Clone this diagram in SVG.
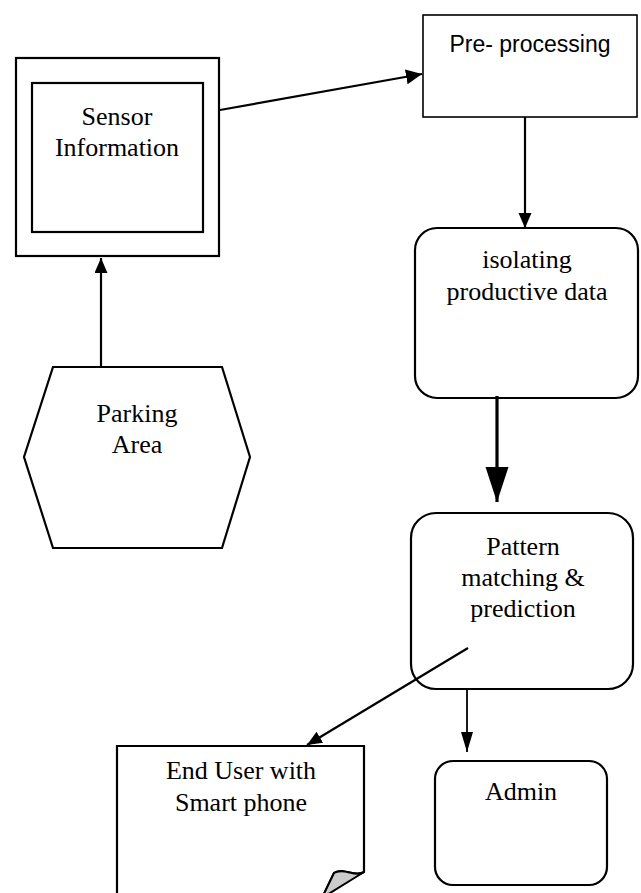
<svg xmlns="http://www.w3.org/2000/svg" width="641" height="893" viewBox="0 0 641 893">
<style>
.box{fill:#fff;stroke:#000;stroke-width:2.2}
.t{font-family:"Liberation Serif","Times New Roman",serif;font-size:26px;fill:#000;text-anchor:middle}
.s{font-family:"Liberation Sans",Arial,sans-serif;font-size:23px;fill:#000;text-anchor:middle}
.ln{stroke:#000;stroke-width:2.2;fill:none}
</style>
<defs>
<marker id="ah" markerUnits="userSpaceOnUse" markerWidth="18" markerHeight="16" refX="16" refY="7.5" orient="auto">
<path d="M0,0 L16,7.5 L0,15 Z" fill="#000"/>
</marker>
<marker id="ahs" markerUnits="userSpaceOnUse" markerWidth="20" markerHeight="14" refX="15" refY="6.5" orient="auto">
<path d="M0,0 L15,6.5 L0,13 Z" fill="#000"/>
</marker>
<marker id="ahl" markerUnits="userSpaceOnUse" markerWidth="22" markerHeight="14" refX="20" refY="6" orient="auto">
<path d="M0,0 L20,6 L0,12 Z" fill="#000"/>
</marker>
<marker id="ahb" markerUnits="userSpaceOnUse" markerWidth="36" markerHeight="24" refX="35" refY="11.5" orient="auto">
<path d="M0,0 L35,11.5 L0,23 Z" fill="#000"/>
</marker>
</defs>
<g id="sensor">
<rect class="box" x="16" y="58" width="203" height="198"/>
<rect class="box" x="32" y="83" width="171" height="149"/>
<text class="t" x="117" y="125">Sensor</text>
<text class="t" x="117" y="156">Information</text>
</g>
<g id="preprocessing">
<rect class="box" x="423" y="15" width="214" height="102" style="stroke-width:1.6"/>
<text class="s" x="530" y="52">Pre- processing</text>
</g>
<g id="isolating">
<rect class="box" x="415" y="228" width="223" height="170" rx="22"/>
<text class="t" x="527" y="268">isolating</text>
<text class="t" x="527" y="300">productive data</text>
</g>
<g id="parking">
<polygon class="box" points="53,367 222,367 250,457 222,548 53,548 24,457"/>
<text class="t" x="137" y="422">Parking</text>
<text class="t" x="137" y="453">Area</text>
</g>
<g id="pattern">
<rect class="box" x="411" y="513" width="222" height="176" rx="25"/>
<text class="t" x="523" y="555">Pattern</text>
<text class="t" x="523" y="586">matching &amp;</text>
<text class="t" x="523" y="617">prediction</text>
</g>
<g id="enduser">
<path class="box" d="M117,900 L117,746 L364,746 L364,872 C355,878 344,867 334,873 L322,898"/>
<path d="M364,872 C355,878 344,867 334,873 L322,898 Z" fill="#cccccc" stroke="#000" stroke-width="2"/>
<text class="t" x="241" y="779">End User with</text>
<text class="t" x="241" y="811">Smart phone</text>
</g>
<g id="admin">
<rect class="box" x="435" y="761" width="172" height="124" rx="18"/>
<text class="t" x="521" y="800">Admin</text>
</g>
<g id="connectors">
<line class="ln" x1="220" y1="110" x2="422" y2="74" marker-end="url(#ah)"/>
<line class="ln" x1="525" y1="117" x2="525" y2="228" marker-end="url(#ahs)"/>
<line class="ln" x1="101" y1="367" x2="101" y2="258" marker-end="url(#ahs)"/>
<line class="ln" x1="497" y1="396" x2="497" y2="502" style="stroke-width:3.2" marker-end="url(#ahb)"/>
<line class="ln" x1="468" y1="648" x2="307" y2="745" marker-end="url(#ahs)"/>
<line class="ln" x1="467" y1="689" x2="467" y2="752" style="stroke-width:1.8" marker-end="url(#ahl)"/>
</g>
</svg>
